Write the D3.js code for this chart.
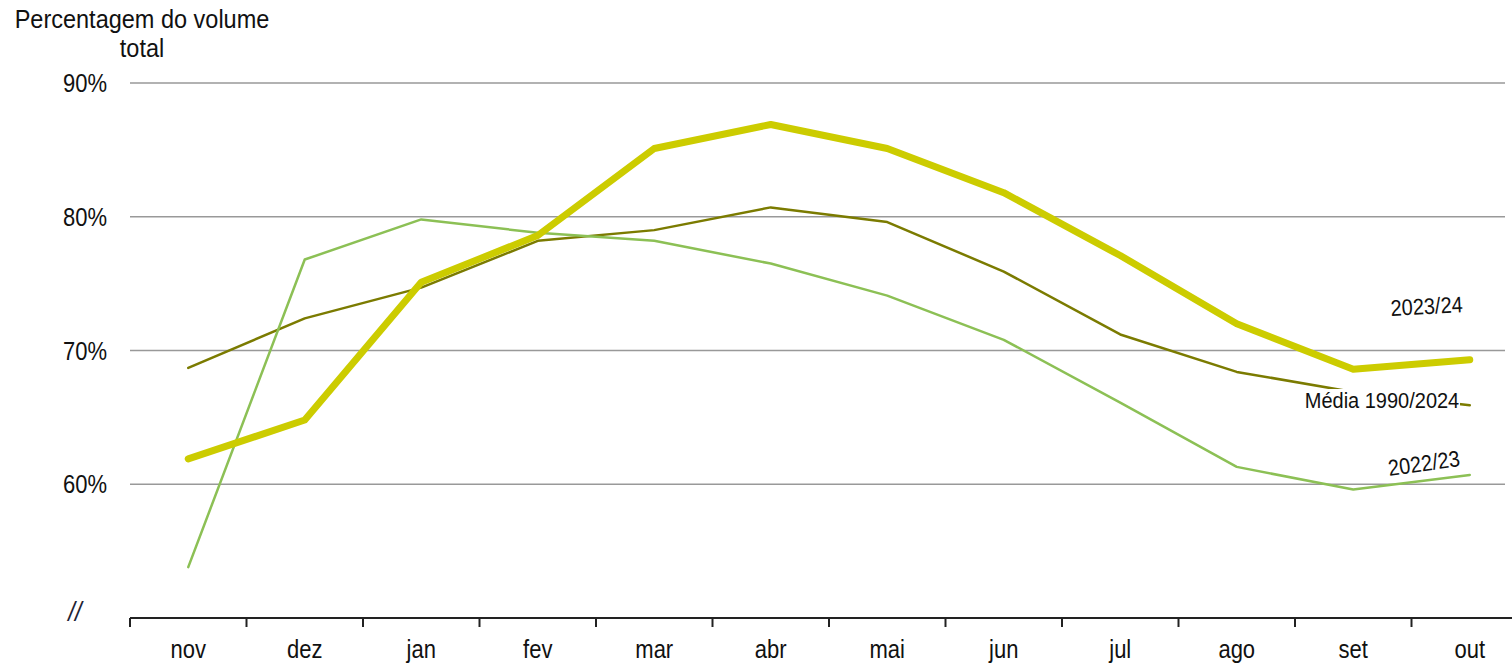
<!DOCTYPE html>
<html>
<head>
<meta charset="utf-8">
<script src="https://cdn.jsdelivr.net/npm/d3@7"></script>
<style>
  body { margin: 0; background: #fff; }
  text { font-family: "Liberation Sans", Arial, sans-serif; fill: #111; }
</style>
</head>
<body>
<div class="chart"></div>
<script>
let months = ['nov', 'dez', 'jan', 'fev', 'mar', 'abr', 'mai', 'jun', 'jul', 'ago', 'set', 'out'];
let yTicks = [60, 70, 80, 90];

// percentagem do volume total
let season2324 = [61.9, 64.8, 75.1, 78.6, 85.1, 86.9, 85.1, 81.8, 77.1, 72.0, 68.6, 69.3];
let media9024 = [68.7, 72.4, 74.7, 78.2, 79.0, 80.7, 79.6, 75.9, 71.2, 68.4, 66.9, 65.9];
let season2223 = [53.8, 76.8, 79.8, 78.8, 78.2, 76.5, 74.1, 70.8, 66.1, 61.3, 59.6, 60.7];

let stretch = 'scale(1,1.13)';

let svg = d3.select('.chart')
  .append('svg')
  .attr('width', 1512)
  .attr('height', 665);

let x = d3.scaleBand()
  .domain(months)
  .range([130, 1528]);

let y = d3.scaleLinear()
  .domain([50, 90])
  .range([618, 83]);

let mid = d => x(d) + x.bandwidth() / 2;

// gridlines
svg.append('g')
  .selectAll('line')
  .data(yTicks)
  .join('line')
  .attr('x1', 130)
  .attr('x2', 1505)
  .attr('y1', d => y(d))
  .attr('y2', d => y(d))
  .attr('stroke', '#999')
  .attr('stroke-width', 1.5);

// y labels
svg.append('g')
  .selectAll('text')
  .data(yTicks)
  .join('text')
  .attr('transform', d => `translate(107,${y(d) + 9}) ${stretch}`)
  .attr('text-anchor', 'end')
  .attr('font-size', 22)
  .text(d => d + '%');

// title
svg.append('text')
  .attr('transform', `translate(142,28) ${stretch}`)
  .attr('text-anchor', 'middle')
  .attr('font-size', 23.5)
  .text('Percentagem do volume');
svg.append('text')
  .attr('transform', `translate(142,57) ${stretch}`)
  .attr('text-anchor', 'middle')
  .attr('font-size', 23.5)
  .text('total');

// axis break mark
svg.append('text')
  .attr('transform', `translate(75,621) ${stretch}`)
  .attr('text-anchor', 'middle')
  .attr('font-size', 24)
  .attr('font-style', 'italic')
  .style('fill', '#223')
  .text('//');

// x axis
let xAxis = svg.append('g')
  .attr('transform', 'translate(0,618)')
  .call(d3.axisBottom(x).tickSize(0));
xAxis.select('.domain')
  .attr('stroke', '#222')
  .attr('stroke-width', 2)
  .attr('d', 'M130,0H1512');
xAxis.selectAll('.tick text')
  .attr('y', 0)
  .attr('dy', 0)
  .attr('transform', `translate(0,40) ${stretch}`)
  .attr('font-size', 22)
  .attr('font-family', '"Liberation Sans", Arial, sans-serif')
  .attr('fill', '#111');
xAxis.selectAll('.boundary')
  .data(months)
  .join('line')
  .attr('class', 'boundary')
  .attr('x1', d => x(d))
  .attr('x2', d => x(d))
  .attr('y1', 0)
  .attr('y2', 9)
  .attr('stroke', '#222')
  .attr('stroke-width', 2);

let line = d3.line()
  .x((d, i) => mid(months[i]))
  .y(d => y(d));

let series = [
  { values: media9024, color: '#7b7b00', width: 2.5 },
  { values: season2223, color: '#8cc055', width: 2.5 },
  { values: season2324, color: '#cccc00', width: 7 }
];

series.forEach(s => {
  svg.append('path')
    .attr('d', line(s.values))
    .attr('fill', 'none')
    .attr('stroke', s.color)
    .attr('stroke-width', s.width)
    .attr('stroke-linejoin', 'round')
    .attr('stroke-linecap', 'round');
});

// series labels
let mediaLabel = svg.append('g')
  .attr('transform', 'translate(1382,408)');
mediaLabel.append('rect')
  .attr('x', -80)
  .attr('y', -19)
  .attr('width', 158)
  .attr('height', 24)
  .attr('fill', '#fff');
mediaLabel.append('text')
  .attr('transform', stretch)
  .attr('text-anchor', 'middle')
  .attr('font-size', 20)
  .text('Média 1990/2024');

svg.append('text')
  .attr('transform', `translate(1427,314) rotate(-3) ${stretch}`)
  .attr('text-anchor', 'middle')
  .attr('font-size', 20)
  .text('2023/24');

svg.append('text')
  .attr('transform', `translate(1425,471) rotate(-8) ${stretch}`)
  .attr('text-anchor', 'middle')
  .attr('font-size', 20)
  .text('2022/23');
</script>
</body>
</html>
